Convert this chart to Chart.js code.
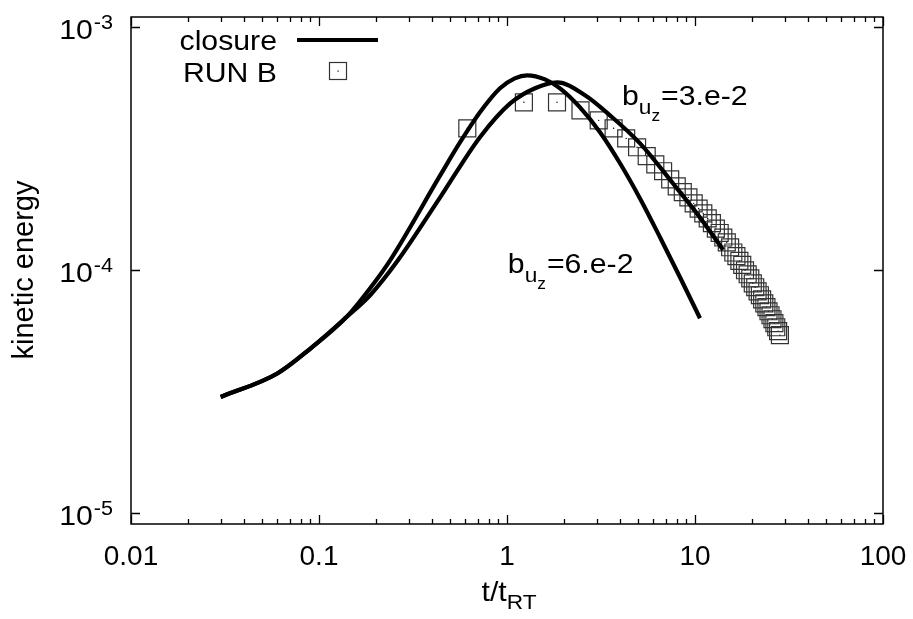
<!DOCTYPE html>
<html><head><meta charset="utf-8">
<script src="https://cdn.jsdelivr.net/npm/chart.js@4/dist/chart.umd.min.js"></script>
<style>html,body{margin:0;padding:0;background:#fff;} #c{display:block;}</style>
</head><body>
<canvas id="c" width="913" height="619"></canvas>
<script>
// ---- data ----
const closureA_t = [0.03, 0.06, 0.09, 0.14, 0.187, 0.239, 0.441, 0.562, 0.718, 0.918, 1.10, 1.28, 1.593, 1.914, 2.445, 3.124, 3.991, 5.098, 6.513, 8.321, 10.63];
const closureA_E = [3.0e-5, 3.75e-5, 4.75e-5, 6.4e-5, 8.41e-5, 1.096e-4, 2.45e-4, 3.35e-4, 4.46e-4, 5.6e-4, 6.15e-4, 6.33e-4, 6.09e-4, 5.59e-4, 4.67e-4, 3.69e-4, 2.75e-4, 1.97e-4, 1.364e-4, 9.33e-5, 6.33e-5];
const closureB_t = [0.03, 0.06, 0.09, 0.14, 0.187, 0.263, 0.441, 0.718, 1.04, 1.41, 1.85, 2.60, 3.53, 5.10, 7.64, 10.6, 14.1];
const closureB_E = [3.0e-5, 3.75e-5, 4.75e-5, 6.4e-5, 7.87e-5, 1.096e-4, 1.99e-4, 3.52e-4, 4.85e-4, 5.6e-4, 5.92e-4, 5.24e-4, 4.33e-4, 3.32e-4, 2.27e-4, 1.65e-4, 1.21e-4];
const runB_t = [0.615, 1.23, 1.845, 2.46, 3.075, 3.69, 4.305, 4.92, 5.535, 6.15, 6.765, 7.38, 7.995, 8.61, 9.225, 9.84, 10.455, 11.07, 11.685, 12.3, 12.915, 13.53, 14.145, 14.76, 15.375, 15.99, 16.605, 17.22, 17.835, 18.45, 19.065, 19.68, 20.295, 20.91, 21.525, 22.14, 22.755, 23.37, 23.985, 24.6, 25.215, 25.83, 26.445, 27.06, 27.675, 28.29];
const runB_E = [3.83e-4, 4.90e-4, 4.90e-4, 4.54e-4, 4.13e-4, 3.83e-4, 3.48e-4, 3.20e-4, 2.94e-4, 2.72e-4, 2.55e-4, 2.36e-4, 2.21e-4, 2.09e-4, 1.99e-4, 1.88e-4, 1.79e-4, 1.71e-4, 1.63e-4, 1.56e-4, 1.48e-4, 1.42e-4, 1.36e-4, 1.30e-4, 1.24e-4, 1.18e-4, 1.14e-4, 1.09e-4, 1.05e-4, 9.97e-5, 9.60e-5, 9.24e-5, 8.81e-5, 8.49e-5, 8.17e-5, 7.87e-5, 7.57e-5, 7.29e-5, 7.03e-5, 6.76e-5, 6.51e-5, 6.27e-5, 6.04e-5, 5.81e-5, 5.60e-5, 5.39e-5];
const xTickVals = [0.01, 0.1, 1, 10, 100];
const xTickLabels = ['0.01', '0.1', '1', '10', '100'];
const yTickVals = [1e-5, 1e-4, 1e-3];
const yTickExps = ['-5', '-4', '-3'];
const seriesLabels = ['closure', 'RUN B'];
const annotTexts = [['b', 'u', 'z', '=3.e-2'], ['b', 'u', 'z', '=6.e-2']];
const annotAnchors = [[4.09, 4.76e-4], [1.01, 9.69e-5]];

const zip = (a, b) => a.map((v, i) => ({x: v, y: b[i]}));
const FONT = '"Liberation Sans", Arial, Helvetica, sans-serif';
const F = s => s + 'px ' + FONT;
const SX = 1.08; // horizontal stretch of the reference's lettering

// draw text stretched horizontally; returns drawn width
function txt(ctx, s, x, y, size, align) {
  ctx.font = F(size);
  const w = ctx.measureText(s).width * SX;
  let x0 = x;
  if (align === 'right') x0 = x - w; else if (align === 'center') x0 = x - w / 2;
  ctx.save();
  ctx.translate(x0, y);
  ctx.scale(SX, 1);
  ctx.textAlign = 'left'; ctx.textBaseline = 'alphabetic';
  ctx.fillText(s, 0, 0);
  ctx.restore();
  return w;
}
function tw(ctx, s, size) { ctx.font = F(size); return ctx.measureText(s).width * SX; }

const gp = {
  id: 'gp',
  afterDraw(chart) {
    const {ctx, chartArea: a, scales: {x, y}} = chart;
    ctx.save();
    ctx.strokeStyle = '#000';
    ctx.fillStyle = '#000';
    // frame
    ctx.lineWidth = 1.5;
    ctx.strokeRect(a.left, a.top, a.right - a.left, a.bottom - a.top);
    // x ticks (inward, mirrored)
    ctx.lineWidth = 1.3;
    ctx.beginPath();
    const lo = Math.round(Math.log10(x.min)), hi = Math.round(Math.log10(x.max));
    for (let d = lo; d <= hi; d++) {
      for (let m = 1; m <= 9; m++) {
        const v = m * Math.pow(10, d);
        if (v > x.max * 1.0001) break;
        const px = Math.round(x.getPixelForValue(v)) + 0.5;
        const len = m === 1 ? 9 : 5;
        ctx.moveTo(px, a.bottom); ctx.lineTo(px, a.bottom - len);
        ctx.moveTo(px, a.top); ctx.lineTo(px, a.top + len);
      }
    }
    // y ticks
    yTickVals.forEach(v => {
      const py = Math.round(y.getPixelForValue(v)) + 0.5;
      ctx.moveTo(a.left, py); ctx.lineTo(a.left + 9, py);
      ctx.moveTo(a.right, py); ctx.lineTo(a.right - 9, py);
    });
    ctx.stroke();
    // y tick labels 10^e
    yTickVals.forEach((v, i) => {
      const py = y.getPixelForValue(v);
      const right = a.left - 18;
      const sw = tw(ctx, yTickExps[i], 20);
      txt(ctx, yTickExps[i], right - sw, py + 2, 20, 'left');
      txt(ctx, '10', right - sw - 1, py + 12, 28, 'right');
    });
    // axis titles
    ctx.save();
    ctx.translate(33, 270);
    ctx.rotate(-Math.PI / 2);
    ctx.font = F(29);
    ctx.textAlign = 'center'; ctx.textBaseline = 'alphabetic';
    ctx.fillText('kinetic energy', 0, 0);
    ctx.restore();
    {
      const w1 = tw(ctx, 't/t', 28), w2 = tw(ctx, 'RT', 21);
      const x0 = (a.left + a.right) / 2 + 2 - (w1 + w2) / 2;
      txt(ctx, 't/t', x0, 601, 28, 'left');
      txt(ctx, 'RT', x0 + w1, 609, 21, 'left');
    }
    // annotations
    annotTexts.forEach((parts, i) => {
      let px = x.getPixelForValue(annotAnchors[i][0]);
      const py = y.getPixelForValue(annotAnchors[i][1]);
      px += txt(ctx, parts[0], px, py, 28, 'left');
      px += txt(ctx, parts[1], px, py + 9, 21, 'left');
      px += txt(ctx, parts[2], px, py + 16, 16, 'left') + 1;
      txt(ctx, parts[3], px, py, 28, 'left');
    });
    // legend
    txt(ctx, seriesLabels[0], 277, 50, 28, 'right');
    txt(ctx, seriesLabels[1], 277, 82, 28, 'right');
    ctx.lineWidth = 4;
    ctx.beginPath(); ctx.moveTo(297, 40); ctx.lineTo(378, 40); ctx.stroke();
    ctx.lineWidth = 1.2; ctx.strokeStyle = '#333';
    ctx.strokeRect(329.5, 62.5, 17, 17);
    ctx.fillRect(337.5, 70.5, 1.2, 1.2);
    ctx.restore();
  }
};

new Chart(document.getElementById('c'), {
  type: 'line',
  data: {
    datasets: [
      {label: seriesLabels[0], data: zip(closureA_t, closureA_E), borderColor: '#000', borderWidth: 4.2, pointRadius: 0, cubicInterpolationMode: 'monotone', fill: false},
      {label: seriesLabels[0], data: zip(closureB_t, closureB_E), borderColor: '#000', borderWidth: 4.2, pointRadius: 0, cubicInterpolationMode: 'monotone', fill: false},
      {label: seriesLabels[1], data: zip(runB_t, runB_E), showLine: false, pointStyle: 'rect', pointRadius: 12, pointBorderColor: '#333', pointBackgroundColor: 'rgba(0,0,0,0)', pointBorderWidth: 1.2},
      {label: seriesLabels[1] + ' c', data: zip(runB_t, runB_E), showLine: false, pointStyle: 'circle', pointRadius: 0.7, pointBorderWidth: 0, pointBackgroundColor: '#000'}
    ]
  },
  options: {
    responsive: false,
    animation: false,
    devicePixelRatio: 1,
    layout: {padding: {left: 0, right: 30, top: 17, bottom: 0}},
    plugins: {legend: {display: false}, tooltip: {enabled: false}},
    scales: {
      x: {
        type: 'logarithmic', min: 0.01, max: 100,
        grid: {display: false, drawTicks: false}, border: {display: false},
        afterBuildTicks: s => { s.ticks = xTickVals.map(v => ({value: v})); },
        afterFit: s => { s.height = 95; s.paddingLeft = 0; s.paddingRight = 0; },
        ticks: {autoSkip: false, maxRotation: 0, padding: 16, color: '#000', font: {family: FONT, size: 28},
          callback: (v, i) => xTickLabels[i]}
      },
      y: {
        type: 'logarithmic', min: 9e-6, max: 1.1e-3,
        grid: {display: false, drawTicks: false}, border: {display: false},
        ticks: {display: false},
        afterBuildTicks: s => { s.ticks = yTickVals.map(v => ({value: v})); },
        afterFit: s => { s.width = 131; s.paddingTop = 0; s.paddingBottom = 0; }
      }
    }
  },
  plugins: [gp]
});
</script>
</body></html>
